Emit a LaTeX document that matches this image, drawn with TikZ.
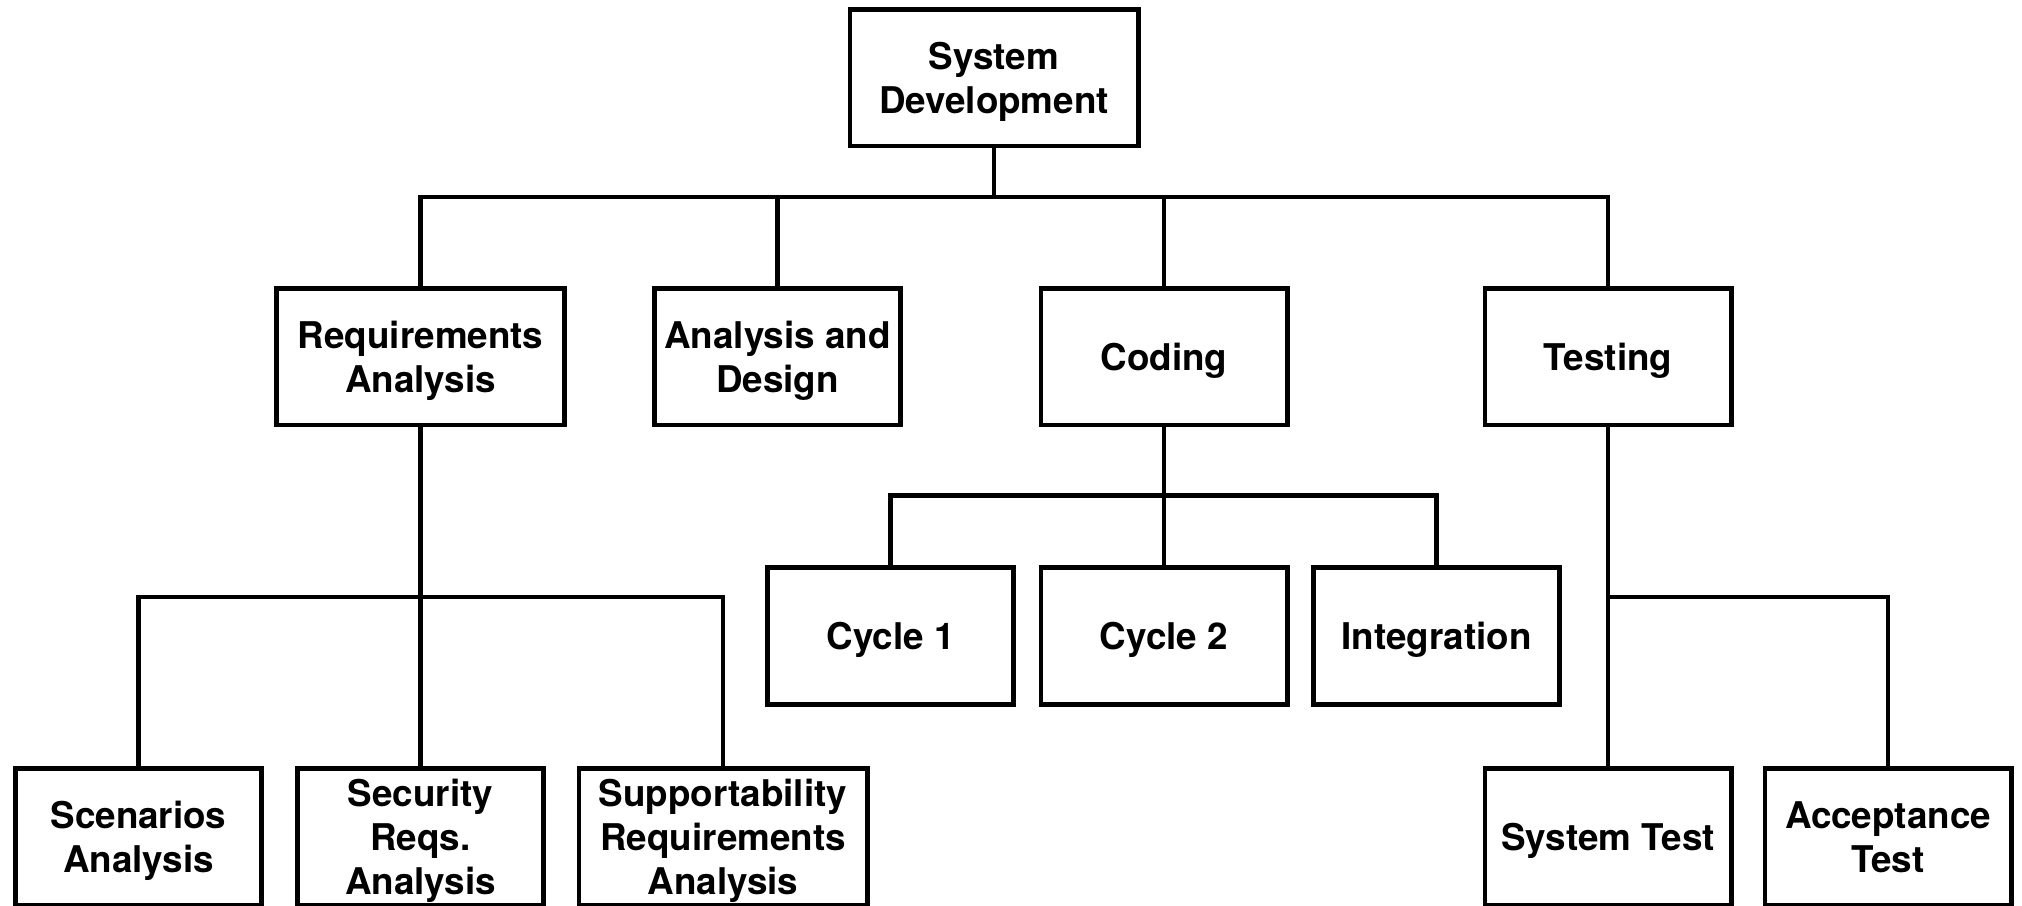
\documentclass[tikz,border=0pt]{standalone}
\usepackage{fontspec}
\setmainfont{TeX Gyre Heros}
\begin{document}
\begin{tikzpicture}[x=0.5pt,y=-0.5pt,
  box/.style={draw=black, line width=2.4pt, rectangle,
    minimum width=123.1pt, minimum height=68.4pt, inner sep=0pt, fill=white},
  widebox/.style={box, minimum width=144.1pt},
  lbl/.style={align=center, inner sep=0pt, yshift=-2.1pt,
    font=\bfseries\fontsize{18.4pt}{22pt}\selectfont,
    execute at begin node={\rule{0pt}{13.6pt}},
    execute at end node={\rule[-4pt]{0pt}{4pt}}},
  conn/.style={draw=black, line width=2.4pt}]
\useasboundingbox (0,0) rectangle (2022,905);
\clip (0,0) rectangle (2022,905);
\fill[white] (0,0) rectangle (2022,905);
% level 0
\node[widebox] (sd) at (994,77.5) {};
\node[lbl] (sd-t) at (sd) {System\\Development};
% level 1
\node[widebox] (req) at (420.5,356.5) {};
\node[lbl] (req-t) at (req) {Requirements\\Analysis};
\node[box] (ad) at (777.5,356.5) {};
\node[lbl] (ad-t) at (ad) {Analysis and\\Design};
\node[box] (cod) at (1164,356.5) {};
\node[lbl] (cod-t) at (cod) {Coding};
\node[box] (tst) at (1608,356.5) {};
\node[lbl] (tst-t) at (tst) {Testing};
% coding children
\node[box] (c1) at (890.5,636) {};
\node[lbl] (c1-t) at (c1) {Cycle 1};
\node[box] (c2) at (1164,636) {};
\node[lbl] (c2-t) at (c2) {Cycle 2};
\node[box] (int) at (1436.5,636) {};
\node[lbl] (int-t) at (int) {Integration};
% requirements children
\node[box] (sc) at (138.5,837) {};
\node[lbl] (sc-t) at (sc) {Scenarios\\Analysis};
\node[box] (sec) at (420.5,837) {};
\node[lbl] (sec-t) at (sec) {Security\\Reqs.\\Analysis};
\node[widebox] (sup) at (723,837) {};
\node[lbl] (sup-t) at (sup) {Supportability\\Requirements\\Analysis};
% testing children
\node[box] (st) at (1608,837) {};
\node[lbl] (st-t) at (st) {System Test};
\node[box] (acc) at (1888,837) {};
\node[lbl] (acc-t) at (acc) {Acceptance\\Test};
% bus coordinates
\coordinate (b1) at (994,197);
\coordinate (b2) at (420.5,597);
\coordinate (b3) at (1164,495.5);
\coordinate (b4) at (1608,597);
% connectors
\draw[conn] (sd.south) -- (b1);
\draw[conn] (req.north) -- (req.north |- b1) -- (tst.north |- b1) -- (tst.north);
\draw[conn] (ad.north) -- (ad.north |- b1);
\draw[conn] (cod.north) -- (cod.north |- b1);
\draw[conn] (cod.south) -- (c2.north);
\draw[conn] (c1.north) -- (c1.north |- b3) -- (int.north |- b3) -- (int.north);
\draw[conn] (req.south) -- (sec.north);
\draw[conn] (sc.north) -- (sc.north |- b2) -- (sup.north |- b2) -- (sup.north);
\draw[conn] (tst.south) -- (st.north);
\draw[conn] (b4) -- (acc.north |- b4) -- (acc.north);
\end{tikzpicture}
\end{document}
